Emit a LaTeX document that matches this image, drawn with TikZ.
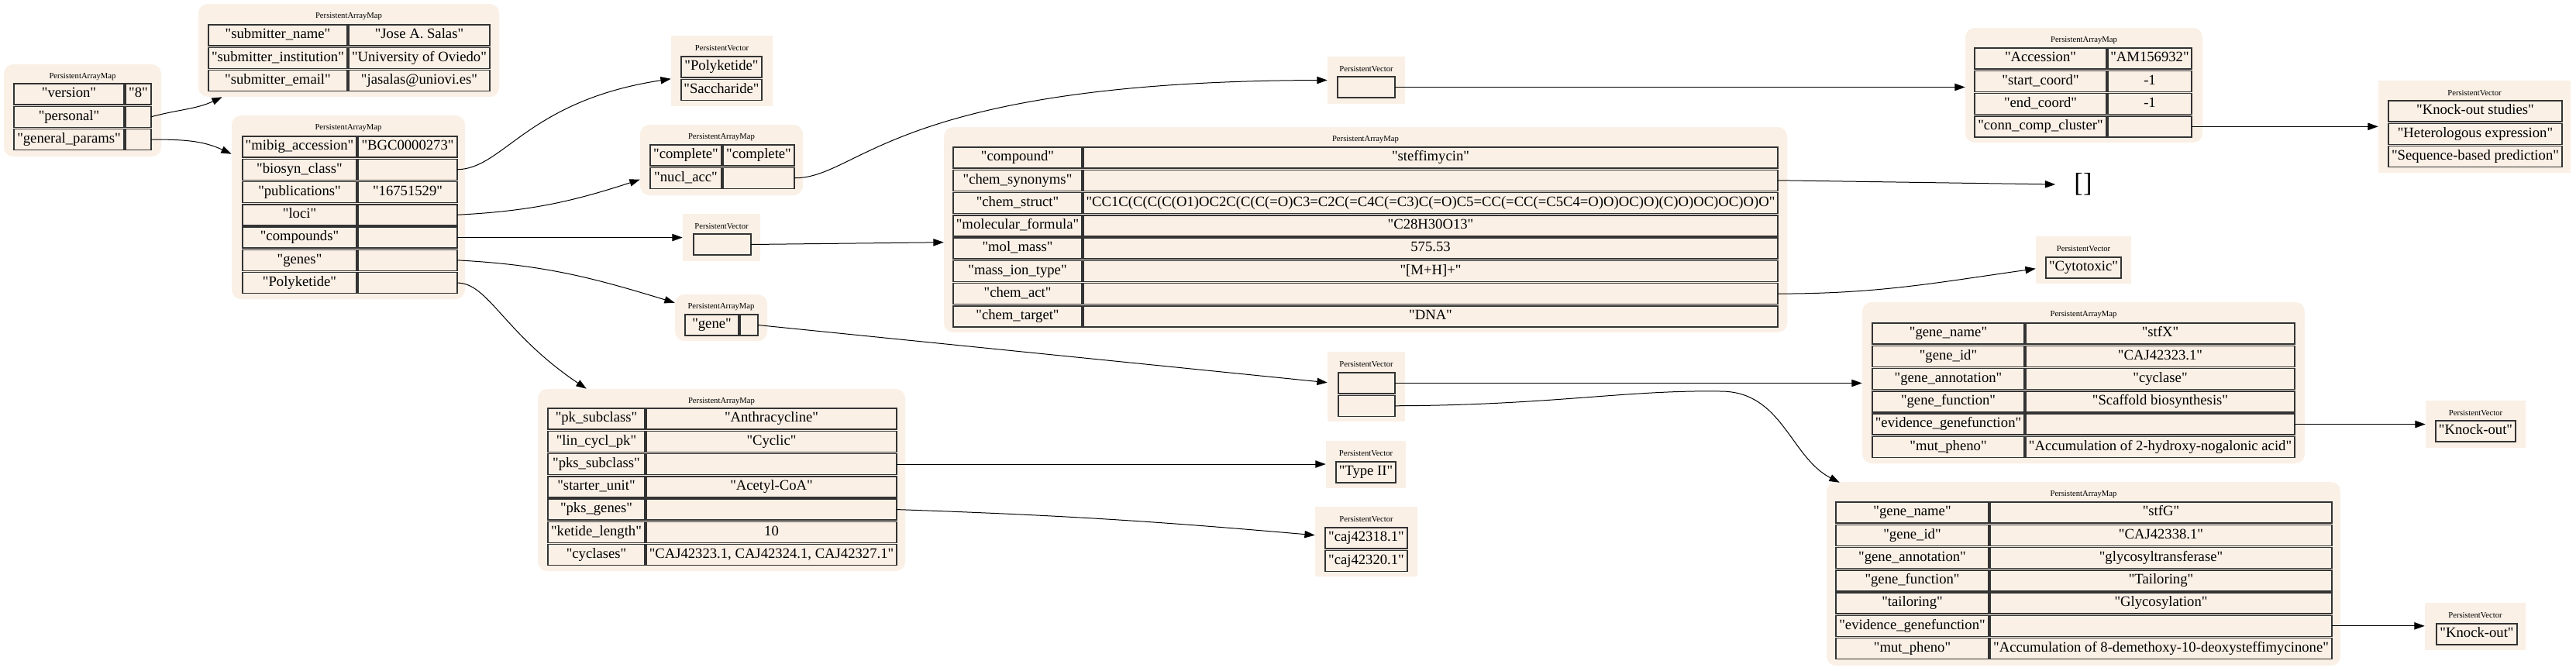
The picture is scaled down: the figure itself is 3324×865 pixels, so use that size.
\documentclass[tikz,border=0pt]{standalone}
\usepackage{fontspec}
\setmainfont{Liberation Serif}[Ligatures=TeXOff]
\usetikzlibrary{positioning,fit,calc,arrows.meta}
\definecolor{linen}{HTML}{FAF0E6}
\begin{document}
\begin{tikzpicture}[x=0.75pt,y=-0.75pt,
    mapbox/.style={fill=linen,draw=none,rounded corners=9pt,inner sep=0pt},
    vecbox/.style={fill=linen,draw=none,inner sep=0pt},
    ttl/.style={font=\fontsize{8}{9.6}\selectfont,inner sep=0pt},
    cell/.style={draw=black!80,line width=1.1pt,fill=linen,minimum height=20.25pt,
        inner xsep=0.5pt,inner ysep=1pt,outer sep=0pt,
        font=\fontsize{14}{16.8}\selectfont,text height=9.5pt,text depth=3pt},
    key/.style={cell},
    val/.style={cell},
    vcell/.style={cell},
    link/.style={line width=0.75pt,-{Triangle[length=10pt,width=7pt]}}]
                    \useasboundingbox (0,0) rectangle (3324,865);

                    \node[mapbox,fit={(5,83) (208,202)}] (Root) {};
                    \node[ttl] (Root-t) at ([yshift=-12.4pt]Root.north) {PersistentArrayMap};
                    \begin{scope}[key/.append style={minimum width=106.5pt},val/.append style={minimum width=24.75pt}]
                    \node[key,anchor=north west] (r1) at (18,108) {"version"};
                    \node[val,right=1.5pt of r1] (r1v) {"8"};
                    \node[key,below=1.7pt of r1] (r2) {"personal"};
                    \node[val,right=1.5pt of r2] (r2v) {};
                    \node[key,below=1.7pt of r2] (r3) {"general\_params"};
                    \node[val,right=1.5pt of r3] (r3v) {};
                    \end{scope}

                    \node[mapbox,fit={(256,5) (644,125)}] (Pers) {};
                    \node[ttl] (Pers-t) at ([yshift=-12.4pt]Pers.north) {PersistentArrayMap};
                    \begin{scope}[key/.append style={minimum width=134.25pt},val/.append style={minimum width=136.5pt}]
                    \node[key,anchor=north west] (p1) at (269,32) {"submitter\_name"};
                    \node[val,right=1.5pt of p1] (p1v) {"Jose A. Salas"};
                    \node[key,below=1.7pt of p1] (p2) {"submitter\_institution"};
                    \node[val,right=1.5pt of p2] (p2v) {"University of Oviedo"};
                    \node[key,below=1.7pt of p2] (p3) {"submitter\_email"};
                    \node[val,right=1.5pt of p3] (p3v) {"jasalas@uniovi.es"};
                    \end{scope}

                    \node[mapbox,fit={(299,149) (600,386)}] (Gen) {};
                    \node[ttl] (Gen-t) at ([yshift=-12.4pt]Gen.north) {PersistentArrayMap};
                    \begin{scope}[key/.append style={minimum width=110.25pt},val/.append style={minimum width=96pt}]
                    \node[key,anchor=north west] (g1) at (313,176) {"mibig\_accession"};
                    \node[val,right=1.5pt of g1] (g1v) {"BGC0000273"};
                    \node[key,below=1.7pt of g1] (g2) {"biosyn\_class"};
                    \node[val,right=1.5pt of g2] (g2v) {};
                    \node[key,below=1.7pt of g2] (g3) {"publications"};
                    \node[val,right=1.5pt of g3] (g3v) {"16751529"};
                    \node[key,below=1.7pt of g3] (g4) {"loci"};
                    \node[val,right=1.5pt of g4] (g4v) {};
                    \node[key,below=1.7pt of g4] (g5) {"compounds"};
                    \node[val,right=1.5pt of g5] (g5v) {};
                    \node[key,below=1.7pt of g5] (g6) {"genes"};
                    \node[val,right=1.5pt of g6] (g6v) {};
                    \node[key,below=1.7pt of g6] (g7) {"Polyketide"};
                    \node[val,right=1.5pt of g7] (g7v) {};
                    \end{scope}

                    \node[vecbox,fit={(866,46) (997,137)}] (Bio) {};
                    \node[ttl] (Bio-t) at ([yshift=-12.4pt]Bio.north) {PersistentVector};
                    \node[vcell,minimum width=78pt,anchor=north west] (b1) at (879,73) {"Polyketide"};
                    \node[vcell,minimum width=78pt,below=1.7pt of b1] (b2) {"Saccharide"};

                    \node[mapbox,fit={(826,161) (1036,252)}] (Cpl) {};
                    \node[ttl] (Cpl-t) at ([yshift=-12.4pt]Cpl.north) {PersistentArrayMap};
                    \begin{scope}[key/.append style={minimum width=69pt},val/.append style={minimum width=69pt}]
                    \node[key,anchor=north west] (c1) at (839,187) {"complete"};
                    \node[val,right=1.5pt of c1] (c1v) {"complete"};
                    \node[key,below=1.7pt of c1] (c2) {"nucl\_acc"};
                    \node[val,right=1.5pt of c2] (c2v) {};
                    \end{scope}

                    \node[vecbox,fit={(881,276) (981,337)}] (CmpV) {};
                    \node[ttl] (CmpV-t) at ([yshift=-12.4pt]CmpV.north) {PersistentVector};
                    \node[vcell,minimum width=55.5pt,anchor=north west] (cv1) at (895,302) {};

                    \node[mapbox,fit={(871,380) (990,440)}] (GeneM) {};
                    \node[ttl] (GeneM-t) at ([yshift=-12.4pt]GeneM.north) {PersistentArrayMap};
                    \node[key,minimum width=51.75pt,anchor=north west] (e1) at (884,406) {"gene"};
                    \node[val,minimum width=17.25pt,right=1.5pt of e1] (e1v) {};

                    \node[mapbox,fit={(1218,164) (2306,429)}] (Cmp) {};
                    \node[ttl] (Cmp-t) at ([yshift=-12.4pt]Cmp.north) {PersistentArrayMap};
                    \begin{scope}[key/.append style={minimum width=124.5pt},val/.append style={minimum width=672pt}]
                    \node[key,anchor=north west] (k1) at (1230,190) {"compound"};
                    \node[val,right=1.5pt of k1] (k1v) {"steffimycin"};
                    \node[key,below=1.7pt of k1] (k2) {"chem\_synonyms"};
                    \node[val,right=1.5pt of k2] (k2v) {};
                    \node[key,below=1.7pt of k2] (k3) {"chem\_struct"};
                    \node[val,right=1.5pt of k3] (k3v) {"CC1C(C(C(C(O1)OC2C(C(C(=O)C3=C2C(=C4C(=C3)C(=O)C5=CC(=CC(=C5C4=O)O)OC)O)(C)O)OC)OC)O)O"};
                    \node[key,below=1.7pt of k3] (k4) {"molecular\_formula"};
                    \node[val,right=1.5pt of k4] (k4v) {"C28H30O13"};
                    \node[key,below=1.7pt of k4] (k5) {"mol\_mass"};
                    \node[val,right=1.5pt of k5] (k5v) {575.53};
                    \node[key,below=1.7pt of k5] (k6) {"mass\_ion\_type"};
                    \node[val,right=1.5pt of k6] (k6v) {"[M+H]+"};
                    \node[key,below=1.7pt of k6] (k7) {"chem\_act"};
                    \node[val,right=1.5pt of k7] (k7v) {};
                    \node[key,below=1.7pt of k7] (k8) {"chem\_target"};
                    \node[val,right=1.5pt of k8] (k8v) {"DNA"};
                    \end{scope}

                    \node[vecbox,fit={(1713,73) (1813,134)}] (NuclV) {};
                    \node[ttl] (NuclV-t) at ([yshift=-12.4pt]NuclV.north) {PersistentVector};
                    \node[vcell,minimum width=55.5pt,anchor=north west] (n1) at (1726,99) {};

                    \node[mapbox,fit={(2536,36) (2842,184)}] (LocM) {};
                    \node[ttl] (LocM-t) at ([yshift=-12.4pt]LocM.north) {PersistentArrayMap};
                    \begin{scope}[key/.append style={minimum width=127.5pt},val/.append style={minimum width=81pt}]
                    \node[key,anchor=north west] (l1) at (2548,62) {"Accession"};
                    \node[val,right=1.5pt of l1] (l1v) {"AM156932"};
                    \node[key,below=1.7pt of l1] (l2) {"start\_coord"};
                    \node[val,right=1.5pt of l2] (l2v) {-1};
                    \node[key,below=1.7pt of l2] (l3) {"end\_coord"};
                    \node[val,right=1.5pt of l3] (l3v) {-1};
                    \node[key,below=1.7pt of l3] (l4) {"conn\_comp\_cluster"};
                    \node[val,right=1.5pt of l4] (l4v) {};
                    \end{scope}

                    \node[vecbox,fit={(3069,104) (3317,223)}] (KoL) {};
                    \node[ttl] (KoL-t) at ([yshift=-12.4pt]KoL.north) {PersistentVector};
                    \node[vcell,minimum width=168pt,anchor=north west] (o1) at (3082,130) {"Knock-out studies"};
                    \node[vcell,minimum width=168pt,below=1.7pt of o1] (o2) {"Heterologous expression"};
                    \node[vcell,minimum width=168pt,below=1.7pt of o2] (o3) {"Sequence-based prediction"};

                    \node[font=\fontsize{26}{30}\selectfont,inner xsep=18pt,inner ysep=0pt] (Syn) at (2688,238) {[]};

                    \node[vecbox,fit={(2627,305) (2750,366)}] (Act) {};
                    \node[ttl] (Act-t) at ([yshift=-12.4pt]Act.north) {PersistentVector};
                    \node[vcell,minimum width=72.75pt,anchor=north west] (a1) at (2640,332) {"Cytotoxic"};

                    \node[vecbox,fit={(1713,454) (1813,544)}] (GeneV) {};
                    \node[ttl] (GeneV-t) at ([yshift=-12.4pt]GeneV.north) {PersistentVector};
                    \node[vcell,minimum width=54.75pt,anchor=north west] (v1) at (1727,481) {};
                    \node[vcell,minimum width=54.75pt,below=1.7pt of v1] (v2) {};

                    \node[mapbox,fit={(2403,390) (2974,598)}] (StfX) {};
                    \node[ttl] (StfX-t) at ([yshift=-12.4pt]StfX.north) {PersistentArrayMap};
                    \begin{scope}[key/.append style={minimum width=147pt},val/.append style={minimum width=260.25pt}]
                    \node[key,anchor=north west] (x1) at (2416,417) {"gene\_name"};
                    \node[val,right=1.5pt of x1] (x1v) {"stfX"};
                    \node[key,below=1.7pt of x1] (x2) {"gene\_id"};
                    \node[val,right=1.5pt of x2] (x2v) {"CAJ42323.1"};
                    \node[key,below=1.7pt of x2] (x3) {"gene\_annotation"};
                    \node[val,right=1.5pt of x3] (x3v) {"cyclase"};
                    \node[key,below=1.7pt of x3] (x4) {"gene\_function"};
                    \node[val,right=1.5pt of x4] (x4v) {"Scaffold biosynthesis"};
                    \node[key,below=1.7pt of x4] (x5) {"evidence\_genefunction"};
                    \node[val,right=1.5pt of x5] (x5v) {};
                    \node[key,below=1.7pt of x5] (x6) {"mut\_pheno"};
                    \node[val,right=1.5pt of x6] (x6v) {"Accumulation of 2-hydroxy-nogalonic acid"};
                    \end{scope}

                    \node[vecbox,fit={(3130,517) (3259,578)}] (KoX) {};
                    \node[ttl] (KoX-t) at ([yshift=-12.4pt]KoX.north) {PersistentVector};
                    \node[vcell,minimum width=77.25pt,anchor=north west] (ox1) at (3143,543) {"Knock-out"};

                    \node[mapbox,fit={(2357,622) (3020,859)}] (StfG) {};
                    \node[ttl] (StfG-t) at ([yshift=-12.4pt]StfG.north) {PersistentArrayMap};
                    \begin{scope}[key/.append style={minimum width=147.75pt},val/.append style={minimum width=330.75pt}]
                    \node[key,anchor=north west] (s1) at (2369,648) {"gene\_name"};
                    \node[val,right=1.5pt of s1] (s1v) {"stfG"};
                    \node[key,below=1.7pt of s1] (s2) {"gene\_id"};
                    \node[val,right=1.5pt of s2] (s2v) {"CAJ42338.1"};
                    \node[key,below=1.7pt of s2] (s3) {"gene\_annotation"};
                    \node[val,right=1.5pt of s3] (s3v) {"glycosyltransferase"};
                    \node[key,below=1.7pt of s3] (s4) {"gene\_function"};
                    \node[val,right=1.5pt of s4] (s4v) {"Tailoring"};
                    \node[key,below=1.7pt of s4] (s5) {"tailoring"};
                    \node[val,right=1.5pt of s5] (s5v) {"Glycosylation"};
                    \node[key,below=1.7pt of s5] (s6) {"evidence\_genefunction"};
                    \node[val,right=1.5pt of s6] (s6v) {};
                    \node[key,below=1.7pt of s6] (s7) {"mut\_pheno"};
                    \node[val,right=1.5pt of s7] (s7v) {"Accumulation of 8-demethoxy-10-deoxysteffimycinone"};
                    \end{scope}

                    \node[vecbox,fit={(3129,778) (3259,839)}] (KoG) {};
                    \node[ttl] (KoG-t) at ([yshift=-12.4pt]KoG.north) {PersistentVector};
                    \node[vcell,minimum width=78pt,anchor=north west] (og1) at (3144,805) {"Knock-out"};

                    \node[mapbox,fit={(694,502) (1168,737)}] (Pk) {};
                    \node[ttl] (Pk-t) at ([yshift=-12.4pt]Pk.north) {PersistentArrayMap};
                    \begin{scope}[key/.append style={minimum width=93.75pt},val/.append style={minimum width=242.25pt}]
                    \node[key,anchor=north west] (q1) at (707,527) {"pk\_subclass"};
                    \node[val,right=1.5pt of q1] (q1v) {"Anthracycline"};
                    \node[key,below=1.7pt of q1] (q2) {"lin\_cycl\_pk"};
                    \node[val,right=1.5pt of q2] (q2v) {"Cyclic"};
                    \node[key,below=1.7pt of q2] (q3) {"pks\_subclass"};
                    \node[val,right=1.5pt of q3] (q3v) {};
                    \node[key,below=1.7pt of q3] (q4) {"starter\_unit"};
                    \node[val,right=1.5pt of q4] (q4v) {"Acetyl-CoA"};
                    \node[key,below=1.7pt of q4] (q5) {"pks\_genes"};
                    \node[val,right=1.5pt of q5] (q5v) {};
                    \node[key,below=1.7pt of q5] (q6) {"ketide\_length"};
                    \node[val,right=1.5pt of q6] (q6v) {10};
                    \node[key,below=1.7pt of q6] (q7) {"cyclases"};
                    \node[val,right=1.5pt of q7] (q7v) {"CAJ42323.1, CAJ42324.1, CAJ42327.1"};
                    \end{scope}

                    \node[vecbox,fit={(1711,569) (1814,630)}] (PksV) {};
                    \node[ttl] (PksV-t) at ([yshift=-12.4pt]PksV.north) {PersistentVector};
                    \node[vcell,minimum width=57.75pt,anchor=north west] (t1) at (1724,596) {"Type II"};

                    \node[vecbox,fit={(1697,654) (1829,744)}] (GenesV) {};
                    \node[ttl] (GenesV-t) at ([yshift=-12.4pt]GenesV.north) {PersistentVector};
                    \node[vcell,minimum width=79.5pt,anchor=north west] (j1) at (1710,681) {"caj42318.1"};
                    \node[vcell,minimum width=79.5pt,below=1.7pt of j1] (j2) {"caj42320.1"};

                    \draw[link] (r2v.east) to[out=15,in=205] ($(Pers.south west)+(31,0)$);
                    \draw[link] (r3v.east) to[out=0,in=155] ($(Gen.north west)+(0,50)$);
                    \draw[link] (g2v.east) .. controls (650,218) and (680,130) .. ($(Bio.north west)+(0,56)$);
                    \draw[link] (g4v.east) to[out=3,in=198] ($(Cpl.north west)+(0,71)$);
                    \draw[link] (g5v.east) -- (g5v.east -| CmpV.west);
                    \draw[link] (g6v.east) to[out=-3,in=163] ($(GeneM.north west)+(0,11)$);
                    \draw[link] (g7v.east) .. controls (630,365) and (650,430) .. ($(Pk.north west)+(63,0)$);
                    \draw[link] (c2v.east) .. controls (1110,230) and (1150,105) .. (NuclV.west);
                    \draw[link] (cv1.east) -- ($(Cmp.north west)+(0,149)$);
                    \draw[link] (e1v.east) -- ($(GeneV.north west)+(0,40)$);
                    \draw[link] (k2v.east) -- (Syn.west);
                    \draw[link] (k7v.east) to[out=0,in=188] ($(Act.north west)+(0,42)$);
                    \draw[link] (n1.east) -- (n1.east -| LocM.west);
                    \draw[link] (l4v.east) -- (l4v.east -| KoL.west);
                    \draw[link] (v1.east) -- (v1.east -| StfX.west);
                    \draw[link] (v2.east) .. controls (2000,523) and (2100,503) .. (2220,505)
                        .. controls (2300,505) and (2310,590) .. ($(StfG.north west)+(17,1)$);
                    \draw[link] (x5v.east) -- (x5v.east -| KoX.west);
                    \draw[link] (s6v.east) -- (s6v.east -| KoG.west);
                    \draw[link] (q3v.east) -- (q3v.east -| PksV.west);
                    \draw[link] (q5v.east) to[out=-2,in=175] ($(GenesV.north west)+(0,37)$);
                \end{tikzpicture}
\end{document}
